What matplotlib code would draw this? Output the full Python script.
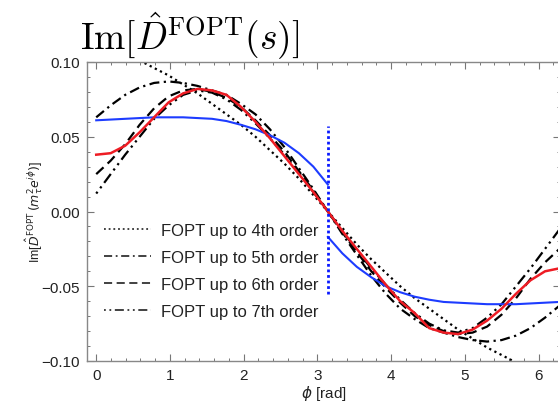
import numpy as np
import matplotlib
matplotlib.use("Agg")
import matplotlib.pyplot as plt
from matplotlib.ticker import MultipleLocator, FuncFormatter
from matplotlib.lines import Line2D

# ---------------- data ----------------
phi = [0.000, 0.196, 0.393, 0.589, 0.785, 0.982, 1.178, 1.374, 1.571,
       1.767, 1.963, 2.160, 2.356, 2.553, 2.749, 2.945, 3.142, 3.338,
       3.534, 3.731, 3.927, 4.123, 4.320, 4.516, 4.712, 4.909, 5.105,
       5.301, 5.498, 5.694, 5.890, 6.087, 6.283]

fopt4 = [0.112, 0.109, 0.105, 0.101, 0.096, 0.091, 0.085, 0.079, 0.072,
         0.065, 0.058, 0.050, 0.041, 0.032, 0.022, 0.011, 0.000, -0.011,
         -0.022, -0.032, -0.041, -0.050, -0.058, -0.065, -0.072, -0.079,
         -0.085, -0.091, -0.096, -0.101, -0.105, -0.109, -0.112]

fopt5 = [0.063, 0.071, 0.078, 0.083, 0.086, 0.087, 0.086, 0.084, 0.081,
         0.078, 0.072, 0.065, 0.055, 0.043, 0.029, 0.015, 0.000, -0.015,
         -0.029, -0.043, -0.055, -0.065, -0.072, -0.078, -0.081, -0.084,
         -0.086, -0.087, -0.086, -0.083, -0.078, -0.071, -0.063]

fopt6 = [0.025, 0.034, 0.045, 0.058, 0.069, 0.077, 0.081, 0.082, 0.080,
         0.076, 0.070, 0.061, 0.051, 0.040, 0.027, 0.014, 0.000, -0.014,
         -0.027, -0.040, -0.051, -0.061, -0.070, -0.076, -0.080, -0.082,
         -0.081, -0.077, -0.069, -0.058, -0.045, -0.034, -0.025]

fopt7 = [0.012, 0.025, 0.038, 0.050, 0.062, 0.071, 0.078, 0.081, 0.0795,
         0.075, 0.068, 0.059, 0.049, 0.038, 0.026, 0.013, 0.000, -0.013,
         -0.026, -0.038, -0.049, -0.059, -0.068, -0.075, -0.0795, -0.081,
         -0.078, -0.071, -0.062, -0.050, -0.038, -0.025, -0.012]

red_curve = [0.038, 0.039, 0.044, 0.053, 0.063, 0.073, 0.079, 0.082, 0.081,
             0.078, 0.070, 0.060, 0.049, 0.037, 0.025, 0.013, 0.000, -0.013,
             -0.025, -0.037, -0.049, -0.060, -0.068, -0.078, -0.081, -0.082,
             -0.079, -0.073, -0.065, -0.055, -0.046, -0.040, -0.038]

phi_left = [0.000, 0.196, 0.393, 0.589, 0.785, 0.982, 1.178, 1.374, 1.571,
            1.767, 1.963, 2.160, 2.356, 2.553, 2.749, 2.945, 3.142]
blue_left = [0.061, 0.0615, 0.062, 0.0625, 0.063, 0.063, 0.063, 0.0625, 0.062,
             0.0605, 0.058, 0.055, 0.051, 0.046, 0.039, 0.030, 0.018]

phi_right = [3.142, 3.338, 3.534, 3.731, 3.927, 4.123, 4.320, 4.516, 4.712,
             4.909, 5.105, 5.301, 5.498, 5.694, 5.890, 6.087, 6.283]
blue_right = [-0.017, -0.028, -0.037, -0.044, -0.050, -0.054, -0.057, -0.059,
              -0.0605, -0.061, -0.0615, -0.062, -0.062, -0.062, -0.0615,
              -0.061, -0.0605]

vline_x = 3.142
vline_span = [-0.055, 0.057]

legend_labels = ["FOPT up to 4th order", "FOPT up to 5th order",
                 "FOPT up to 6th order", "FOPT up to 7th order"]

xticks = [0, 1, 2, 3, 4, 5, 6]
yticks = [-0.10, -0.05, 0.00, 0.05, 0.10]

# ---------------- figure ----------------
sans = ["Liberation Sans", "DejaVu Sans"]
plt.rcParams["font.family"] = sans

fig = plt.figure(figsize=(5.58, 4.10), dpi=100)
ax = fig.add_axes([87 / 558, 48 / 410, 473 / 558, 299 / 410])

styles = [
    (0, (1.0, 1.6)),
    (0, (4.5, 2.0, 1.0, 2.0)),
    (0, (4.5, 2.5)),
    (0, (1.0, 2.0, 1.0, 2.0, 5.0, 2.0)),
]
series = [fopt4, fopt5, fopt6, fopt7]
handles = []
for vals, ls, lab in zip(series, styles, legend_labels):
    ax.plot(phi, vals, color="black", lw=1.6, linestyle=ls)
    handles.append(Line2D([], [], color="#333333", lw=1.3, linestyle=ls))

ax.plot(phi_left, blue_left, color="#1d3cff", lw=1.5)
ax.plot(phi_right, blue_right, color="#1d3cff", lw=1.5)
ax.plot(phi, red_curve, color="#ee1c24", lw=1.8)
ax.plot([vline_x, vline_x], vline_span, color="#0a1aff", lw=2.0,
        linestyle=(0, (1.0, 1.0)))

ax.set_xlim(-0.125, 6.29)
ax.set_ylim(-0.10, 0.10)
ax.set_xticks(xticks)
ax.set_yticks(yticks)
ax.xaxis.set_minor_locator(MultipleLocator(0.2))
ax.yaxis.set_minor_locator(MultipleLocator(0.01))
ax.yaxis.set_major_formatter(FuncFormatter(lambda v, p: f"{v:.2f}".replace("-", "\u2212")))
ax.tick_params(which="both", direction="in", top=True, right=True,
               color="#777777", labelcolor="#222222", labelsize=11)
ax.tick_params(which="major", length=5, width=0.8, pad=5)
ax.tick_params(which="minor", length=2.5, width=0.7)
for s in ax.spines.values():
    s.set_color("#888888")
    s.set_linewidth(1.0)

ax.set_xlabel(r"$\phi$ [rad]", fontsize=11, color="#222222", labelpad=1)
ax.set_ylabel(r"Im[$\hat{D}^{\mathrm{FOPT}}\,(m_\tau^2 e^{i\phi})$]",
              fontsize=9, color="#222222")
ax.yaxis.set_label_coords(-0.088, 0.5)

leg = ax.legend(handles, legend_labels, loc="upper left",
                bbox_to_anchor=(0.012, 0.50), frameon=False, fontsize=12,
                handlelength=2.8, handletextpad=0.6, labelspacing=0.72,
                borderaxespad=0.3)
for t in leg.get_texts():
    t.set_color("#222222")

fig.text(80 / 558, 1 - 36 / 410, r"$\mathrm{Im}[\hat{D}^{\mathrm{FOPT}}(s)]$",
         fontsize=27, va="center", ha="left", math_fontfamily="cm")

fig.savefig("out.png", dpi=100)
